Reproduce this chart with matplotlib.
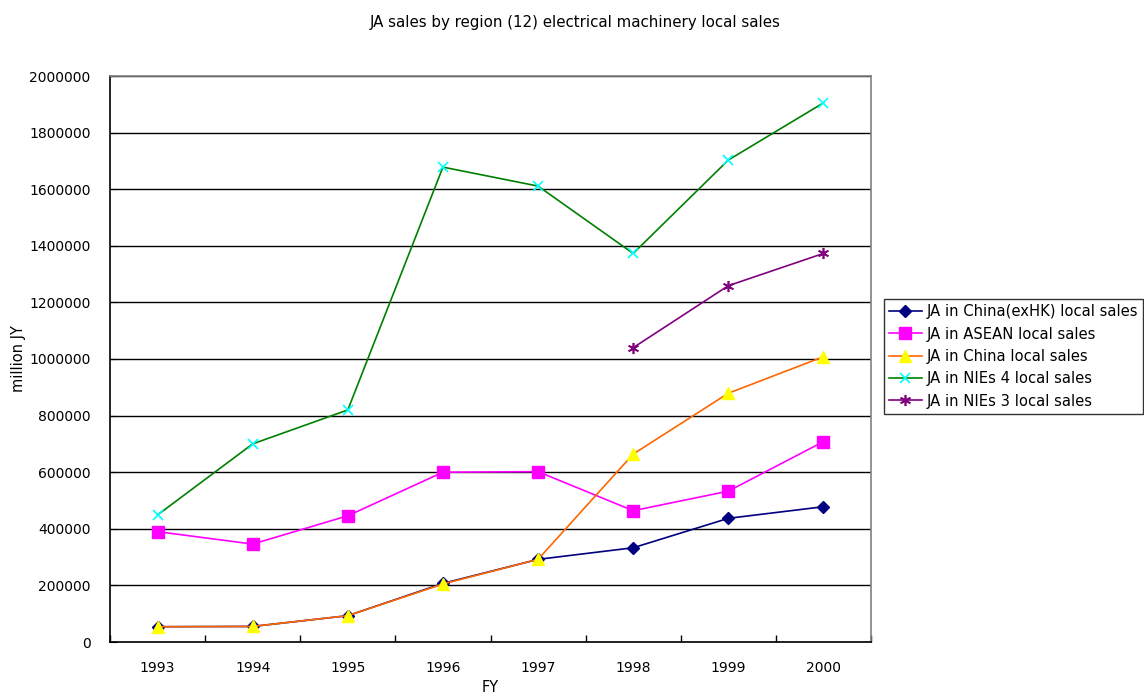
import matplotlib
matplotlib.use("Agg")
import matplotlib.pyplot as plt
import numpy as np

years = ["1993", "1994", "1995", "1996", "1997", "1998", "1999", "2000"]
china_exhk = [54000, 55000, 93000, 207000, 292000, 333000, 437000, 478000]
asean = [390000, 346000, 446000, 600000, 602000, 464000, 533000, 708000]
china = [54000, 55000, 93000, 205000, 292000, 664000, 879000, 1008000]
nies4 = [449000, 700000, 820000, 1678000, 1611000, 1373000, 1703000, 1905000]
nies3 = [np.nan, np.nan, np.nan, np.nan, np.nan, 1040000, 1259000, 1373000]
yticks = list(range(0, 2000001, 200000))

plt.rcParams['font.family'] = ['DejaVu Sans']
fig = plt.figure(figsize=(11.44, 6.96), dpi=100)
ax = fig.add_axes([110/1144, 54/696, 761/1144, 566/696])

x = np.arange(len(years))
ax.plot(x, china_exhk, color="#000080", marker="D", markersize=6, lw=1.2,
        label="JA in China(exHK) local sales")
ax.plot(x, asean, color="#FF00FF", marker="s", markersize=8, lw=1.2,
        markerfacecolor="#FF00FF", markeredgecolor="#FF00FF",
        label="JA in ASEAN local sales")
ax.plot(x, china, color="#FF6600", marker="^", markersize=8, lw=1.2,
        markerfacecolor="#FFFF00", markeredgecolor="#FFFF00",
        label="JA in China local sales")
ax.plot(x, nies4, color="#008000", marker="x", markersize=7, lw=1.2,
        markeredgecolor="#00FFFF", markeredgewidth=1.2,
        label="JA in NIEs 4 local sales")
ax.plot(x, nies3, color="#800080", marker=(6, 2, 0), markersize=8, lw=1.2,
        markeredgecolor="#800080", markeredgewidth=1.2,
        label="JA in NIEs 3 local sales")

ax.set_xlim(-0.5, len(years) - 0.5)
ax.set_ylim(0, 2000000)
ax.set_yticks(yticks)
ax.set_yticklabels([str(v) for v in yticks])
ax.set_xticks(x)
ax.set_xticklabels(years)
ax.set_xticks(np.arange(-0.5, len(years), 1.0), minor=True)
ax.tick_params(axis='x', which='major', length=0, pad=14, labelsize=10)
ax.tick_params(axis='x', which='minor', length=5, direction='in', width=1)
ax.tick_params(axis='y', which='major', length=5, direction='in', pad=14, labelsize=10)
ax.grid(axis='y', color='black', lw=1)
ax.set_axisbelow(True)
for s in ['left', 'bottom']:
    ax.spines[s].set_color('black')
    ax.spines[s].set_linewidth(1.2)
for s in ['top', 'right']:
    ax.spines[s].set_color('#808080')
    ax.spines[s].set_linewidth(1.2)

ax.set_xlabel("FY", fontsize=10.5, labelpad=3)
ax.set_ylabel("million JY", fontsize=10.5, labelpad=2)
fig.text(575/1144, 1 - 22/696, "JA sales by region (12) electrical machinery local sales",
         ha='center', va='center', fontsize=10.8)

leg = ax.legend(loc='upper left', bbox_to_anchor=(884/1144, 1 - 299/696),
                bbox_transform=fig.transFigure, frameon=True, fancybox=False,
                edgecolor='black', fontsize=10.6, handlelength=2.2,
                borderaxespad=0, borderpad=0.35, labelspacing=0.5, handletextpad=0.35)
leg.get_frame().set_linewidth(1.0)

fig.savefig("out.png", dpi=100)
